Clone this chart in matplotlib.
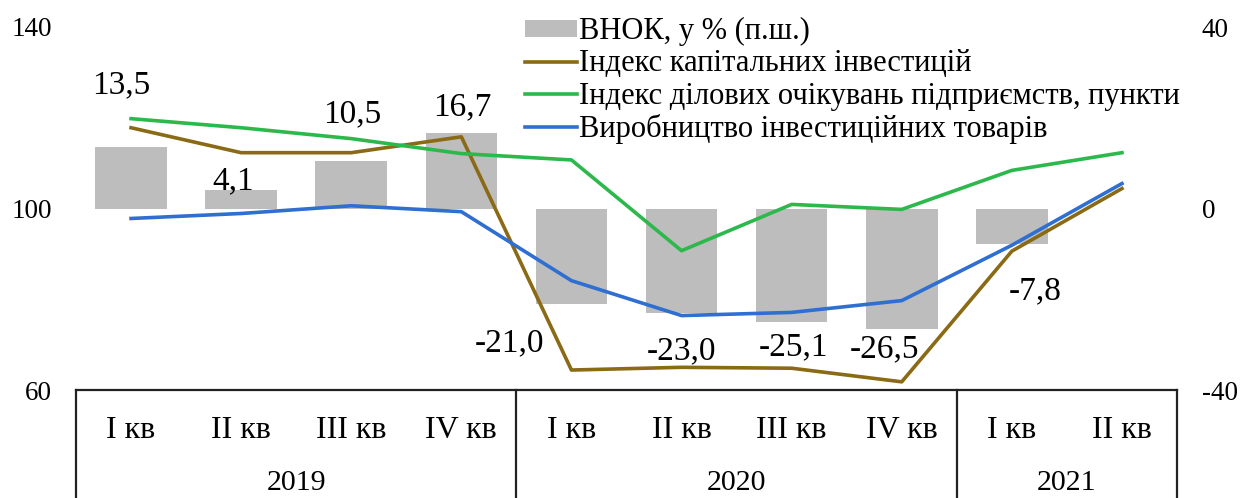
import matplotlib
matplotlib.use("Agg")
import matplotlib.pyplot as plt
import numpy as np

plt.rcParams['font.family'] = ['Liberation Serif', 'DejaVu Serif']
plt.rcParams['axes.unicode_minus'] = False

# Quarters and years
quarters = ["I кв", "II кв", "III кв", "IV кв", "I кв", "II кв", "III кв", "IV кв", "I кв", "II кв"]
years = ["2019", "2020", "2021"]
quarters_per_year = [4, 4, 2]

# ВНОК, у % (right axis); no value for II кв 2021
gfcf = [13.5, 4.1, 10.5, 16.7, -21.0, -23.0, -25.1, -26.5, -7.8, np.nan]

# Left-axis indices
capital_investment = [117.8, 112.3, 112.3, 115.8, 64.4, 65.0, 64.8, 61.8, 90.6, 104.4]
business_expectations = [119.8, 117.8, 115.4, 112.1, 110.7, 90.7, 100.9, 99.8, 108.4, 112.3]
investment_goods = [97.8, 98.9, 100.6, 99.3, 84.1, 76.4, 77.1, 79.7, 91.9, 105.5]

# Label baseline offsets in pixels (dx, dy) from the bar end
label_offsets = [(-10, 54), (-8, 1), (1, 39), (1, 17), (-62, -47),
                 (0, -46), (2, -33), (-17, -29), (23, -55), (0, 0)]

C_BAR = "#BDBDBD"
C_CAP = "#8A6A14"
C_BUS = "#2DB84C"
C_INV = "#2F6FD2"

PX = 0.72  # points per pixel at 100 dpi

fig = plt.figure(figsize=(12.54, 4.98), dpi=100)
ax = fig.add_axes([76 / 1254, 1 - 390 / 498, 1101 / 1254, 363 / 498])
ax2 = ax.twinx()

x = np.arange(len(quarters))

# Bars on the right axis, drawn beneath the lines
ax2.bar(x, gfcf, width=0.65, color=C_BAR, zorder=1, label="ВНОК, у % (п.ш.)")
ax2.set_ylim(-40, 40)
ax2.set_yticks([-40, 0, 40])
ax2.set_zorder(0)
ax.set_zorder(1)
ax.patch.set_visible(False)

ax.plot(x, capital_investment, color=C_CAP, lw=2.6, zorder=3, label="Індекс капітальних інвестицій")
ax.plot(x, business_expectations, color=C_BUS, lw=2.6, zorder=3,
        label="Індекс ділових очікувань підприємств, пункти")
ax.plot(x, investment_goods, color=C_INV, lw=2.6, zorder=3, label="Виробництво інвестиційних товарів")
ax.set_ylim(60, 140)
ax.set_yticks([60, 100, 140])
ax.set_xlim(-0.5, len(quarters) - 0.5)
ax.set_xticks([])

for a in (ax, ax2):
    for s in a.spines.values():
        s.set_visible(False)
    a.tick_params(axis='y', length=0, labelsize=19.5)
ax.tick_params(axis='y', pad=24 * PX)
ax2.tick_params(axis='y', pad=25 * PX)

# Value labels for the bars
for xi, v, (dx, dy) in zip(x, gfcf, label_offsets):
    if np.isnan(v):
        continue
    txt = f"{v:.1f}".replace(".", ",")
    ax2.annotate(txt, (xi, v), xytext=(dx * PX, dy * PX), textcoords="offset points",
                 ha="center", va="baseline", fontsize=24, zorder=5)

# Category table beneath the plot
trans = ax.get_xaxis_transform()
ax.plot([-0.5, len(quarters) - 0.5], [0, 0], transform=trans, color="#222222", lw=1.6, clip_on=False)
bounds = np.concatenate([[0], np.cumsum(quarters_per_year)]) - 0.5
for b in bounds:
    ax.plot([b, b], [0, -0.35], transform=trans, color="#222222", lw=1.6, clip_on=False)
for xi, q in zip(x, quarters):
    ax.text(xi, -0.132, q, transform=trans, ha="center", va="baseline", fontsize=23)
for i, yr in enumerate(years):
    ax.text((bounds[i] + bounds[i + 1]) / 2, -0.275, yr, transform=trans,
            ha="center", va="baseline", fontsize=21.5)

# Legend
h1, l1 = ax2.get_legend_handles_labels()
h2, l2 = ax.get_legend_handles_labels()
fig.legend(h1 + h2, l1 + l2, loc="upper left", bbox_to_anchor=(525 / 1254, 1 - 17 / 498),
           frameon=False, fontsize=22, handlelength=1.7, handleheight=0.5, handletextpad=0.08,
           labelspacing=0.11, borderaxespad=0, borderpad=0)

fig.savefig("out.png", dpi=100)
